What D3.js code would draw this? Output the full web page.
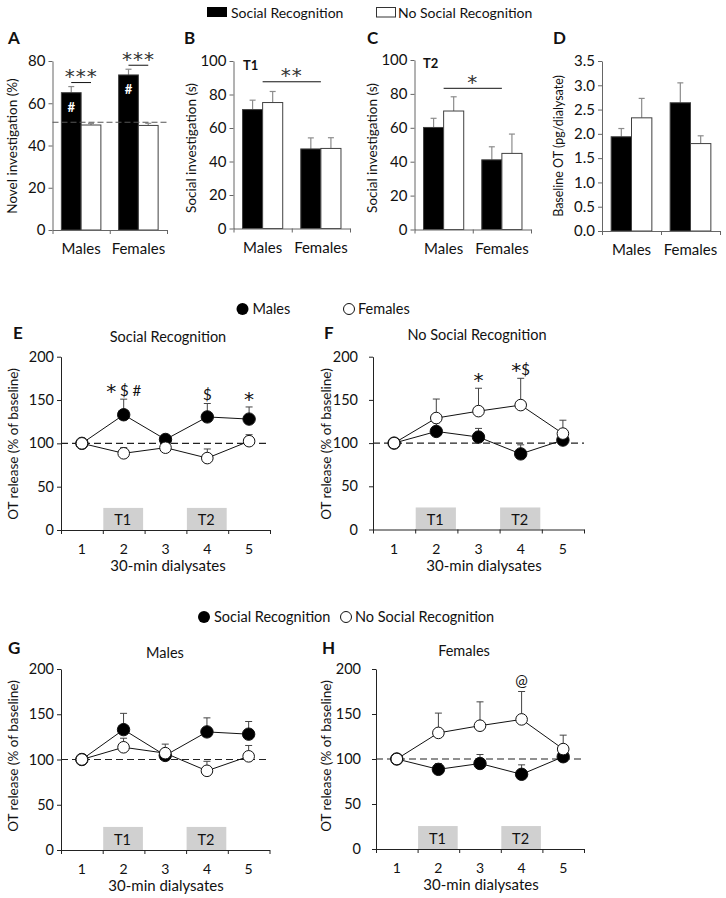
<!DOCTYPE html>
<html lang="en">
<head>
<meta charset="utf-8">
<title>Social recognition and OT release</title>
<script src="https://d3js.org/d3.v7.min.js"></script>
<style>
  body { margin: 0; background: #fff; }
  svg { font-family: Lato, "Open Sans", sans-serif; fill: #111; }
  .star { font-family: "DejaVu Sans", sans-serif; }
</style>
</head>
<body>
<script>
// ---- data ----
const groups = ["Males", "Females"];
const conditions = ["SR", "NoSR"];

// A: novel investigation (%)
const novelSR = [65.0, 73.4];
const novelSRSem = [2.9, 2.7];
const novelNoSR = [49.7, 49.5];
const novelNoSRSem = [0.7, 1.0];

// B: social investigation T1 (s)
const t1SR = [71.0, 47.5];
const t1SRSem = [5.6, 6.6];
const t1NoSR = [75.2, 47.8];
const t1NoSRSem = [6.6, 6.4];

// C: social investigation T2 (s)
const t2SR = [60.2, 41.1];
const t2SRSem = [5.4, 7.7];
const t2NoSR = [69.9, 44.9];
const t2NoSRSem = [8.4, 11.4];

// D: baseline OT (pg/dialysate)
const baseSR = [1.94, 2.64];
const baseSRSem = [0.17, 0.41];
const baseNoSR = [2.33, 1.80];
const baseNoSRSem = [0.40, 0.16];

// E-H: OT release (% of baseline) per 30-min dialysate
const dialysates = [1, 2, 3, 4, 5];
const maleSR = [100, 133, 104.5, 130.5, 128];
const maleSRSem = [0, 18, 3.5, 15.5, 14];
const femaleSR = [100, 88.5, 95, 83, 102.5];
const femaleSRSem = [0, 6.5, 10, 10.5, 7.5];
const maleNoSR = [100, 113.5, 107, 87.5, 103.5];
const maleNoSRSem = [0, 10, 10, 10.5, 12];
const femaleNoSR = [100, 129, 137, 144, 111];
const femaleNoSRSem = [0, 22, 26.5, 31, 15.5];

const trials = [{label: "T1", at: 2}, {label: "T2", at: 4}];

const svg = d3.select("body").append("svg")
  .attr("width", 726).attr("height", 898);

function styleAxis(sel, col) {
  sel.select(".domain").attr("stroke", col);
  sel.selectAll(".tick line").attr("stroke", col);
  sel.selectAll(".tick text").attr("fill", "#111");
}

function letter(txt, x, y) {
  svg.append("text").attr("x", x).attr("y", y).text(txt)
    .attr("font-size", 17).attr("font-weight", "bold");
}

function yTitle(txt, x, y, size) {
  svg.append("text").attr("transform", `translate(${x},${y}) rotate(-90)`)
    .attr("text-anchor", "middle").attr("dy", "0.35em")
    .attr("font-size", size).text(txt);
}

// annotation text: asterisks drawn larger than the other symbols
function starText(g, txt, x, y) {
  const t = g.append("text").attr("x", x).attr("y", y).attr("text-anchor", "middle");
  let shifted = false;
  txt.split(/(\*)/).filter(s => s.length).forEach(s => {
    const ts = t.append("tspan").text(s);
    if (s === "*") {
      ts.attr("class", "star").attr("font-size", 20).attr("dy", shifted ? 0 : 2);
      shifted = true;
    } else {
      ts.attr("font-size", 15).attr("dy", shifted ? -2 : 0);
      shifted = false;
    }
  });
  return t;
}

function barPanel(o) {
  const g = svg.append("g");
  const x = d3.scaleBand().domain(groups).range([o.x0, o.x1]);
  const bw = x.bandwidth();
  const xs = d3.scaleBand().domain(conditions).range([bw * 0.155, bw * 0.845]);
  const y = d3.scaleLinear().domain([0, o.max]).range([o.y0, o.y1]);

  const rows = groups.flatMap((grp, i) => [
    {grp, cond: "SR", v: o.sr[i], e: o.srSem[i]},
    {grp, cond: "NoSR", v: o.nosr[i], e: o.nosrSem[i]}
  ]);
  const cx = d => x(d.grp) + xs(d.cond) + xs.bandwidth() / 2;

  // error bars (upper only)
  g.selectAll("line.err").data(rows).join("line")
    .attr("x1", cx).attr("x2", cx)
    .attr("y1", d => y(d.v)).attr("y2", d => y(d.v + d.e))
    .attr("stroke", "#8c8c8c").attr("stroke-width", 1.2);
  g.selectAll("line.cap").data(rows).join("line")
    .attr("x1", d => cx(d) - 3).attr("x2", d => cx(d) + 3)
    .attr("y1", d => y(d.v + d.e)).attr("y2", d => y(d.v + d.e))
    .attr("stroke", "#8c8c8c").attr("stroke-width", 1.2);

  g.selectAll("rect.bar").data(rows).join("rect")
    .attr("x", d => x(d.grp) + xs(d.cond)).attr("width", xs.bandwidth())
    .attr("y", d => y(d.v)).attr("height", d => y(0) - y(d.v))
    .attr("fill", d => d.cond === "SR" ? "#000" : "#fff")
    .attr("stroke", "#404040").attr("stroke-width", 1);

  const ya = g.append("g").attr("transform", `translate(${o.x0},0)`)
    .call(d3.axisLeft(y).tickValues(o.ticks).tickSize(4).tickSizeOuter(0)
      .tickPadding(3).tickFormat(o.fmt))
    .attr("font-size", 15).attr("font-family", null);
  styleAxis(ya, "#666");

  const edge = d3.scaleLinear().domain([0, 2]).range([o.x0, o.x1]);
  const xa = g.append("g").attr("transform", `translate(0,${o.y0})`)
    .call(d3.axisBottom(edge).ticks(2).tickSize(4).tickSizeOuter(0).tickFormat(""));
  styleAxis(xa, "#666");
  g.selectAll("text.cat").data(groups).join("text")
    .attr("x", d => x(d) + bw / 2).attr("y", o.y0 + 24)
    .attr("text-anchor", "middle").attr("font-size", 15).text(d => d);

  return {g, x, xs, y, cx};
}

// significance bar with asterisks above it
function sigBar(g, xa, xb, ly, stars) {
  g.append("line").attr("x1", xa).attr("x2", xb).attr("y1", ly).attr("y2", ly).attr("stroke", "#111");
  g.append("text").attr("class", "star").attr("x", (xa + xb) / 2).attr("y", ly + 0.5)
    .attr("text-anchor", "middle").attr("font-size", 20).attr("letter-spacing", 1)
    .attr("fill", "#333").text(stars);
}

// ---- top legend ----
svg.append("rect").attr("x", 207).attr("y", 7).attr("width", 20).attr("height", 10).attr("fill", "#000");
svg.append("text").attr("x", 231).attr("y", 18).attr("font-size", 14).text("Social Recognition");
svg.append("rect").attr("x", 376.5).attr("y", 7.5).attr("width", 19).attr("height", 9.5)
  .attr("fill", "#fff").attr("stroke", "#333");
svg.append("text").attr("x", 398).attr("y", 18).attr("font-size", 14).text("No Social Recognition");

// ---- A ----
letter("A", 8, 44);
yTitle("Novel investigation (%)", 12, 146, 13.5);
const A = barPanel({x0: 52.5, x1: 167, y0: 230, y1: 61, max: 80, ticks: [0, 20, 40, 60, 80],
  fmt: d3.format("d"), sr: novelSR, srSem: novelSRSem, nosr: novelNoSR, nosrSem: novelNoSRSem});
A.g.append("line").attr("x1", 52.5).attr("x2", 167).attr("y1", A.y(51)).attr("y2", A.y(51))
  .attr("stroke", "#555").attr("stroke-dasharray", "6,3");
groups.forEach((grp, i) => {
  const xa = A.x(grp) + A.xs("SR") + A.xs.bandwidth() / 2;
  const xb = A.x(grp) + A.xs("NoSR") + A.xs.bandwidth() / 2;
  sigBar(A.g, xa, xb, A.y(novelSR[i] + novelSRSem[i]) - 4, "***");
  A.g.append("text").attr("x", xa).attr("y", A.y(novelSR[i]) + 19).attr("text-anchor", "middle")
    .attr("font-size", 13).attr("font-weight", "bold").attr("fill", "#fff").text("#");
});

// ---- B ----
letter("B", 184, 44);
yTitle("Social investigation (s)", 191, 148, 13.5);
const B = barPanel({x0: 233.5, x1: 350, y0: 228.5, y1: 61, max: 100, ticks: [0, 20, 40, 60, 80, 100],
  fmt: d3.format("d"), sr: t1SR, srSem: t1SRSem, nosr: t1NoSR, nosrSem: t1NoSRSem});
B.g.append("text").attr("x", 243).attr("y", 70).attr("font-size", 13).attr("font-weight", "bold").text("T1");
sigBar(B.g, B.x("Males") + B.x.bandwidth() / 2, B.x("Females") + B.x.bandwidth() / 2, B.y(87.6), "**");

// ---- C ----
letter("C", 367, 44);
yTitle("Social investigation (s)", 372, 148, 13.5);
const C = barPanel({x0: 414.5, x1: 531, y0: 229.5, y1: 60, max: 100, ticks: [0, 20, 40, 60, 80, 100],
  fmt: d3.format("d"), sr: t2SR, srSem: t2SRSem, nosr: t2NoSR, nosrSem: t2NoSRSem});
C.g.append("text").attr("x", 423).attr("y", 68).attr("font-size", 13).attr("font-weight", "bold").text("T2");
sigBar(C.g, C.x("Males") + C.x.bandwidth() / 2, C.x("Females") + C.x.bandwidth() / 2, C.y(83.3), "*");

// ---- D ----
letter("D", 553, 44);
yTitle("Baseline OT (pg/dialysate)", 559, 146, 12.5);
barPanel({x0: 602, x1: 720, y0: 231, y1: 61, max: 3.5, ticks: d3.range(0, 3.51, 0.5),
  fmt: d3.format(".1f"), sr: baseSR, srSem: baseSRSem, nosr: baseNoSR, nosrSem: baseNoSRSem});

// ---- line panels ----
function circleLegend(x1, t1, x2, t2, y) {
  svg.append("circle").attr("cx", x1).attr("cy", y).attr("r", 6).attr("fill", "#000");
  svg.append("text").attr("x", x1 + 10).attr("y", y + 5).attr("font-size", 14.5).text(t1);
  svg.append("circle").attr("cx", x2).attr("cy", y).attr("r", 5.5).attr("fill", "#fff").attr("stroke", "#111");
  svg.append("text").attr("x", x2 + 9).attr("y", y + 5).attr("font-size", 14.5).text(t2);
}

function linePanel(o) {
  const g = svg.append("g");
  const x = d3.scaleBand().domain(dialysates).range([o.x0, o.x1]);
  const y = d3.scaleLinear().domain([0, 200]).range([o.y0, o.y1]);
  const cx = d => x(d) + x.bandwidth() / 2;

  g.selectAll("rect.trial").data(trials).join("rect")
    .attr("x", d => x(d.at) + 0.5).attr("width", x.bandwidth() - 2)
    .attr("y", y(25.5)).attr("height", y(0) - y(25.5)).attr("fill", "#d0d0d0");
  g.selectAll("text.trial").data(trials).join("text")
    .attr("x", d => cx(d.at) - 1).attr("y", y(0) - 5).attr("text-anchor", "middle")
    .attr("font-size", 14.5).text(d => d.label);

  g.append("line").attr("x1", o.x0).attr("x2", o.x1).attr("y1", y(100)).attr("y2", y(100))
    .attr("stroke", "#222").attr("stroke-width", 1.2).attr("stroke-dasharray", "7,4");

  const ya = g.append("g").attr("transform", `translate(${o.x0},0)`)
    .call(d3.axisLeft(y).tickValues([0, 50, 100, 150, 200]).tickSize(4).tickSizeOuter(0).tickPadding(o.pad))
    .attr("font-size", 14.5).attr("font-family", null);
  styleAxis(ya, "#222");
  const edge = d3.scaleLinear().domain([0, 5]).range([o.x0, o.x1]);
  const xa = g.append("g").attr("transform", `translate(0,${o.y0})`)
    .call(d3.axisBottom(edge).ticks(5).tickSize(4).tickSizeOuter(0).tickFormat(""));
  styleAxis(xa, "#222");
  g.selectAll("text.xl").data(dialysates).join("text")
    .attr("x", cx).attr("y", o.y0 + 24).attr("text-anchor", "middle").attr("font-size", 14).text(d => d);
  g.append("text").attr("x", o.xt).attr("y", o.y0 + 41).attr("text-anchor", "middle")
    .attr("font-size", 15).text("30-min dialysates");
  g.append("text").attr("x", o.tx).attr("y", o.ty).attr("text-anchor", "middle")
    .attr("font-size", 14.5).text(o.title);

  const line = d3.line().x((d, i) => cx(dialysates[i])).y(d => y(d));
  o.series.forEach(s => {
    const pts = dialysates.map((d, i) => ({d, v: s.v[i], e: s.e[i]})).filter(p => p.e > 0);
    g.selectAll(null).data(pts).join("line")
      .attr("x1", p => cx(p.d)).attr("x2", p => cx(p.d))
      .attr("y1", p => y(p.v)).attr("y2", p => y(p.v + p.e)).attr("stroke", "#444");
    g.selectAll(null).data(pts).join("line")
      .attr("x1", p => cx(p.d) - 3.5).attr("x2", p => cx(p.d) + 3.5)
      .attr("y1", p => y(p.v + p.e)).attr("y2", p => y(p.v + p.e)).attr("stroke", "#444");
  });
  o.series.forEach(s => {
    g.append("path").datum(s.v).attr("d", line).attr("fill", "none").attr("stroke", "#111").attr("stroke-width", 1);
  });
  o.series.forEach(s => {
    g.selectAll(null).data(s.v).join("circle")
      .attr("cx", (d, i) => cx(dialysates[i])).attr("cy", d => y(d))
      .attr("r", s.filled ? 6.2 : 5.8)
      .attr("fill", s.filled ? "#000" : "#fff").attr("stroke", "#111").attr("stroke-width", 1);
  });

  (o.notes || []).forEach(n => {
    const i = dialysates.indexOf(n.at);
    const top = d3.max(o.series, s => s.v[i] + s.e[i]);
    starText(g, n.text, cx(n.at), y(top) - (n.text === "@" ? 6 : 3));
  });
}

// E / F
circleLegend(242.5, "Males", 349, "Females", 309);
letter("E", 13, 339);
yTitle("OT release (% of baseline)", 13, 444, 13.5);
linePanel({x0: 61, x1: 270, y0: 530, y1: 356.7, pad: 3, xt: 168, tx: 168, ty: 342,
  title: "Social Recognition",
  series: [{v: maleSR, e: maleSRSem, filled: true}, {v: femaleSR, e: femaleSRSem, filled: false}],
  notes: [{at: 2, text: "* $ #"}, {at: 4, text: "$"}, {at: 5, text: "*"}]});

letter("F", 324, 339);
yTitle("OT release (% of baseline)", 326, 444, 13.5);
linePanel({x0: 373, x1: 584, y0: 529.5, y1: 356.7, pad: 11, xt: 484, tx: 477, ty: 340,
  title: "No Social Recognition",
  series: [{v: maleNoSR, e: maleNoSRSem, filled: true}, {v: femaleNoSR, e: femaleNoSRSem, filled: false}],
  notes: [{at: 3, text: "*"}, {at: 4, text: "*$"}]});

// G / H
circleLegend(204, "Social Recognition", 346, "No Social Recognition", 617);
letter("G", 8, 654);
yTitle("OT release (% of baseline)", 13, 756, 13.5);
linePanel({x0: 61, x1: 269.5, y0: 850, y1: 669, pad: 3, xt: 166, tx: 165, ty: 658,
  title: "Males",
  series: [{v: maleSR, e: maleSRSem, filled: true}, {v: maleNoSR, e: maleNoSRSem, filled: false}]});

letter("H", 322, 654);
yTitle("OT release (% of baseline)", 326, 756, 13.5);
linePanel({x0: 376, x1: 584, y0: 849, y1: 669, pad: 11, xt: 481, tx: 464, ty: 656,
  title: "Females",
  series: [{v: femaleSR, e: femaleSRSem, filled: true}, {v: femaleNoSR, e: femaleNoSRSem, filled: false}],
  notes: [{at: 4, text: "@"}]});
</script>
</body>
</html>
